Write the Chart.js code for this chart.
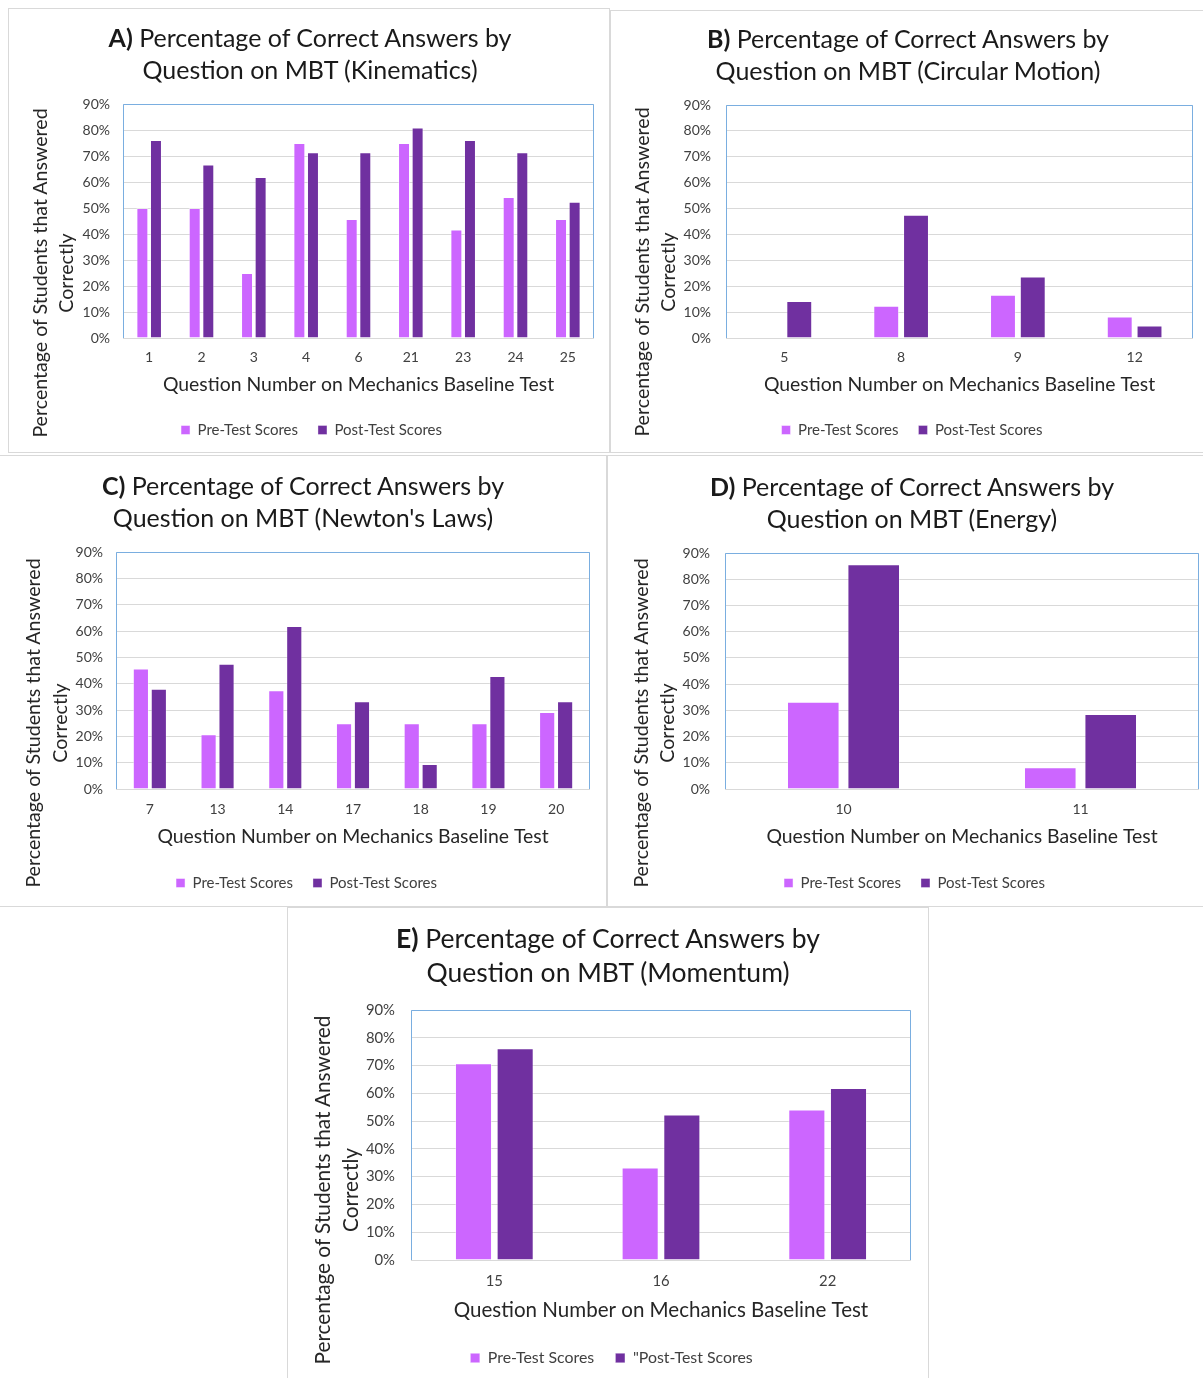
<!DOCTYPE html>
<html>
<head>
<meta charset="utf-8">
<script src="https://cdn.jsdelivr.net/npm/chart.js@4.4.1/dist/chart.umd.min.js"></script>
<style>
body { margin: 0; background: #fff; width: 1203px; height: 1378px; position: relative; overflow: hidden; font-family: Lato, 'Noto Sans', sans-serif; }
.box { position: absolute; border: 1px solid #d9d9d9; box-sizing: border-box; }
.title { position: absolute; width: 640px; text-align: center; color: #1a1a1a; white-space: nowrap; }
.ytitle { position: absolute; width: 460px; text-align: center; color: #262626; white-space: nowrap; transform: rotate(-90deg); }
canvas { position: absolute; }
</style>
</head>
<body>
<script>
const PRE_COLOR = '#cc66ff';
const POST_COLOR = '#7030a0';

// Kinematics
const kinCats = ['1', '2', '3', '4', '6', '21', '23', '24', '25'];
const kinPre = [50, 50, 25, 75, 45.8, 75, 41.7, 54.2, 45.8];
const kinPost = [76.2, 66.7, 61.9, 71.4, 71.4, 81.0, 76.2, 71.4, 52.4];

// Circular motion
const circCats = ['5', '8', '9', '12'];
const circPre = [0, 12.5, 16.7, 8.3];
const circPost = [14.3, 47.6, 23.8, 4.8];

// Newton's laws
const newtCats = ['7', '13', '14', '17', '18', '19', '20'];
const newtPre = [45.8, 20.8, 37.5, 25, 25, 25, 29.2];
const newtPost = [38.1, 47.6, 61.9, 33.3, 9.5, 42.9, 33.3];

// Energy
const enerCats = ['10', '11'];
const enerPre = [33.3, 8.3];
const enerPost = [85.7, 28.6];

// Momentum
const momCats = ['15', '16', '22'];
const momPre = [70.8, 33.3, 54.2];
const momPost = [76.2, 52.4, 61.9];

const yMax = 90;
const yStep = 10;
const xTitle = 'Question Number on Mechanics Baseline Test';
const yTitle = ['Percentage of Students that Answered', 'Correctly'];

// layout of each panel (page pixels)
const panels = [
    { letter: 'A', topic: 'Kinematics', cats: kinCats, pre: kinPre, post: kinPost, postLabel: 'Post-Test Scores',
      box: [8, 8, 610, 453], plot: [123, 104, 594, 338], tickY: 357, xTitleY: 385, legendY: 430, legendCx: 311.5,
      titleCx: 310, titleY: 37, yT: [40, 66, 272.5], cp: 0.52, bp: 0.88, tickPad: 13 },
    { letter: 'B', topic: 'Circular Motion', cats: circCats, pre: circPre, post: circPost, postLabel: 'Post-Test Scores',
      box: [610, 10, 1210, 453], plot: [726, 105, 1193, 338], tickY: 357, xTitleY: 385, legendY: 430, legendCx: 912,
      titleCx: 908, titleY: 38, yT: [642, 668, 272], cp: 0.51, bp: 0.87, tickPad: 15 },
    { letter: 'C', topic: "Newton's Laws", cats: newtCats, pre: newtPre, post: newtPost, postLabel: 'Post-Test Scores',
      box: [-1, 455, 607, 907], plot: [116, 552, 590, 789], tickY: 809, xTitleY: 837, legendY: 883, legendCx: 306.5,
      titleCx: 303, titleY: 485, yT: [32, 59, 723], cp: 0.53, bp: 0.9, tickPad: 13 },
    { letter: 'D', topic: 'Energy', cats: enerCats, pre: enerPre, post: enerPost, postLabel: 'Post-Test Scores',
      box: [607, 455, 1210, 907], plot: [725, 553, 1199, 789], tickY: 809, xTitleY: 837, legendY: 883, legendCx: 914.5,
      titleCx: 912, titleY: 486, yT: [641, 667, 722.5], cp: 0.51, bp: 0.87, tickPad: 15 },
    { letter: 'E', topic: 'Momentum', cats: momCats, pre: momPre, post: momPost, postLabel: '"Post-Test Scores',
      box: [287, 907, 929, 1385], plot: [411, 1010, 911, 1260], tickY: 1281, xTitleY: 1310, legendY: 1358, legendCx: 611.5,
      titleCx: 608, titleY: 938, titleGap: 34, yT: [322, 350, 1189.5], cp: 0.5, bp: 0.89, tickPad: 16, scale: 1.06 }
];

const plotBorder = {
    id: 'plotBorder',
    beforeDatasetsDraw(chart) {
        const a = chart.chartArea;
        const ctx = chart.ctx;
        ctx.save();
        ctx.strokeStyle = '#7aaee0';
        ctx.lineWidth = 1;
        ctx.beginPath();
        ctx.moveTo(a.left + 0.5, a.bottom);
        ctx.lineTo(a.left + 0.5, a.top + 0.5);
        ctx.lineTo(a.right - 0.5, a.top + 0.5);
        ctx.lineTo(a.right - 0.5, a.bottom);
        ctx.stroke();
        ctx.restore();
    }
};

const fixLegend = {
    id: 'fixLegend',
    beforeLayout(chart, args, opts) {
        const lg = chart.legend;
        if (!lg || lg._fixed) return;
        const fit = lg.fit;
        lg.fit = function () {
            fit.call(this);
            this.height = opts.height;
        };
        lg._fixed = true;
    }
};

function makePanel(p) {
    const [l, t, r, b] = p.box;
    const [pl, pt, pr, pb] = p.plot;
    const s = p.scale || 1;

    const box = document.createElement('div');
    box.className = 'box';
    box.style.left = l + 'px';
    box.style.top = t + 'px';
    box.style.width = (r - l) + 'px';
    box.style.height = (b - t) + 'px';
    document.body.appendChild(box);

    const canvas = document.createElement('canvas');
    canvas.width = r - l;
    canvas.height = b - t;
    canvas.style.left = l + 'px';
    canvas.style.top = t + 'px';
    document.body.appendChild(canvas);

    const titleSize = 25 * s;
    const gap = p.titleGap || 32;
    const title = document.createElement('div');
    title.className = 'title';
    title.style.fontSize = titleSize + 'px';
    title.style.lineHeight = gap + 'px';
    title.style.left = (p.titleCx - 320) + 'px';
    title.style.top = (p.titleY - gap / 2) + 'px';
    title.innerHTML = '<b>' + p.letter + ')</b> Percentage of Correct Answers by<br>Question on MBT (' + p.topic + ')';
    document.body.appendChild(title);

    const yGap = p.yT[1] - p.yT[0];
    const yt = document.createElement('div');
    yt.className = 'ytitle';
    yt.style.fontSize = (19.6 * s) + 'px';
    yt.style.lineHeight = yGap + 'px';
    yt.style.left = ((p.yT[0] + p.yT[1]) / 2 - 230) + 'px';
    yt.style.top = (p.yT[2] - yGap) + 'px';
    yt.innerHTML = yTitle.join('<br>');
    document.body.appendChild(yt);

    const tickF = 14 * s;
    const xtF = 19.4 * s;
    const legF = 15 * s;
    const legPad = 20 * s;
    const LH = (b - p.legendY) + legPad + legF / 2;
    const padR = r - pr;
    const padL = 2 * p.legendCx - pr - l;
    const xH = (b - LH) - pb;

    new Chart(canvas, {
        type: 'bar',
        data: {
            labels: p.cats,
            datasets: [{
                label: 'Pre-Test Scores',
                data: p.pre,
                backgroundColor: PRE_COLOR,
                borderColor: 'rgba(255,255,255,0.45)',
                borderWidth: 1,
                categoryPercentage: p.cp,
                barPercentage: p.bp
            }, {
                label: p.postLabel,
                data: p.post,
                backgroundColor: POST_COLOR,
                borderColor: 'rgba(255,255,255,0.35)',
                borderWidth: 1,
                categoryPercentage: p.cp,
                barPercentage: p.bp
            }]
        },
        options: {
            responsive: false,
            animation: false,
            layout: { padding: { left: padL, right: padR, top: pt - t, bottom: 0 } },
            plugins: {
                tooltip: { enabled: false },
                fixLegend: { height: LH },
                legend: {
                    position: 'bottom',
                    labels: {
                        boxWidth: 9 * s,
                        boxHeight: 9 * s,
                        padding: legPad,
                        color: '#404040',
                        font: { family: 'Lato', size: legF }
                    }
                }
            },
            scales: {
                x: {
                    grid: { display: false, drawTicks: false },
                    border: { display: false },
                    ticks: { color: '#404040', padding: p.tickY - pb - tickF * 0.6, font: { family: 'Lato', size: tickF } },
                    title: {
                        display: true,
                        text: xTitle,
                        color: '#262626',
                        font: { family: 'Lato', size: xtF },
                        padding: { top: 0, bottom: (b - LH) - p.xTitleY - xtF * 0.6 }
                    },
                    afterFit(scale) { scale.height = xH; }
                },
                y: {
                    min: 0,
                    max: yMax,
                    grid: { color: '#d9d9d9', drawTicks: false },
                    border: { display: false },
                    ticks: {
                        stepSize: yStep,
                        padding: p.tickPad,
                        color: '#404040',
                        font: { family: 'Lato', size: tickF },
                        callback: v => v + '%'
                    },
                    afterFit(scale) { scale.width = pl - (l + padL); }
                }
            }
        },
        plugins: [plotBorder, fixLegend]
    });
}

panels.forEach(makePanel);
</script>
</body>
</html>
